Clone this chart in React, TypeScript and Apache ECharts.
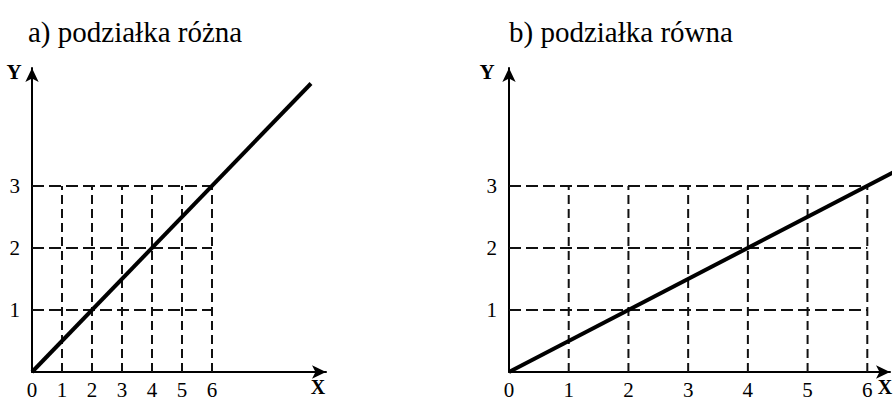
import React, { useEffect, useRef } from "react";
import * as echarts from "echarts";

const titleA = "a) podziałka różna";
const titleB = "b) podziałka równa";
const xTickLabels = [0, 1, 2, 3, 4, 5, 6];
const yTickLabels = [1, 2, 3];
const gridXs = [1, 2, 3, 4, 5, 6];
const gridYs = [1, 2, 3];
const gridXMax = 6;
const gridYMax = 3;
const lineA = [[0, 0], [9.3, 4.65]];
const lineB = [[0, 0], [6.5, 3.25]];

const FONT = "Liberation Serif";

function dashedSeries(idx: number) {
  const out: any[] = [];
  gridYs.forEach((y) => {
    out.push({
      type: "line",
      xAxisIndex: idx,
      yAxisIndex: idx,
      data: [[0, y], [gridXMax, y]],
      symbol: "none",
      lineStyle: { color: "#111", width: 2, type: [12, 5] },
      silent: true,
    });
  });
  gridXs.forEach((x) => {
    out.push({
      type: "line",
      xAxisIndex: idx,
      yAxisIndex: idx,
      data: [[x, 0], [x, gridYMax]],
      symbol: "none",
      lineStyle: { color: "#111", width: 2, type: [9, 5] },
      silent: true,
    });
  });
  return out;
}

function axisX(idx: number, max: number) {
  return {
    type: "value",
    gridIndex: idx,
    min: 0,
    max,
    interval: 1,
    axisLine: {
      show: true,
      onZero: false,
      symbol: ["none", "arrow"],
      symbolSize: [10, 14],
      lineStyle: { color: "#000", width: 2 },
    },
    axisTick: { show: false },
    splitLine: { show: false },
    axisLabel: {
      color: "#000",
      fontFamily: FONT,
      fontSize: 21,
      margin: 7,
      formatter: (v: number) => (xTickLabels.includes(v) ? String(v) : ""),
    },
  };
}

function axisY(idx: number) {
  return {
    type: "value",
    gridIndex: idx,
    min: 0,
    max: 4.9,
    interval: 1,
    axisLine: {
      show: true,
      onZero: false,
      symbol: ["none", "arrow"],
      symbolSize: [10, 14],
      lineStyle: { color: "#000", width: 2 },
    },
    axisTick: { show: false },
    splitLine: { show: false },
    axisLabel: {
      color: "#000",
      fontFamily: FONT,
      fontSize: 21,
      margin: 12,
      formatter: (v: number) => (yTickLabels.includes(v) ? String(v) : ""),
    },
  };
}

export default function App() {
  const ref = useRef<HTMLDivElement>(null);
  useEffect(() => {
    if (!ref.current) return;
    const chart = echarts.init(ref.current, null, { renderer: "svg" });
    chart.setOption({
      animation: false,
      backgroundColor: "#fff",
      textStyle: { fontFamily: FONT },
      grid: [
        { left: 32, top: 68, width: 294, height: 304 },
        { left: 509, top: 68, width: 381, height: 304 },
      ],
      xAxis: [axisX(0, 9.8), axisX(1, 6.38)],
      yAxis: [axisY(0), axisY(1)],
      series: [
        ...dashedSeries(0),
        ...dashedSeries(1),
        {
          type: "line",
          xAxisIndex: 0,
          yAxisIndex: 0,
          data: lineA,
          symbol: "none",
          clip: false,
          lineStyle: { color: "#000", width: 4 },
        },
        {
          type: "line",
          xAxisIndex: 1,
          yAxisIndex: 1,
          data: lineB,
          symbol: "none",
          clip: false,
          lineStyle: { color: "#000", width: 4 },
        },
      ],
      graphic: [
        {
          type: "text",
          left: 28,
          top: 17,
          style: { text: titleA, fontFamily: FONT, fontSize: 29, fill: "#000" },
        },
        {
          type: "text",
          left: 509,
          top: 17,
          style: { text: titleB, fontFamily: FONT, fontSize: 29, fill: "#000" },
        },
        {
          type: "text",
          x: 14,
          y: 72,
          style: { text: "Y", fontFamily: FONT, fontSize: 21, fontWeight: "bold", fill: "#000", align: "center", verticalAlign: "middle" },
        },
        {
          type: "text",
          x: 318,
          y: 387,
          style: { text: "X", fontFamily: FONT, fontSize: 20, fontWeight: "bold", fill: "#000", align: "center", verticalAlign: "middle" },
        },
        {
          type: "text",
          x: 487,
          y: 72,
          style: { text: "Y", fontFamily: FONT, fontSize: 21, fontWeight: "bold", fill: "#000", align: "center", verticalAlign: "middle" },
        },
        {
          type: "text",
          x: 885,
          y: 387,
          style: { text: "X", fontFamily: FONT, fontSize: 20, fontWeight: "bold", fill: "#000", align: "center", verticalAlign: "middle" },
        },
      ],
    });
    return () => chart.dispose();
  }, []);
  return <div ref={ref} style={{ width: 896, height: 400, position: "absolute", left: 0, top: 0 }} />;
}
